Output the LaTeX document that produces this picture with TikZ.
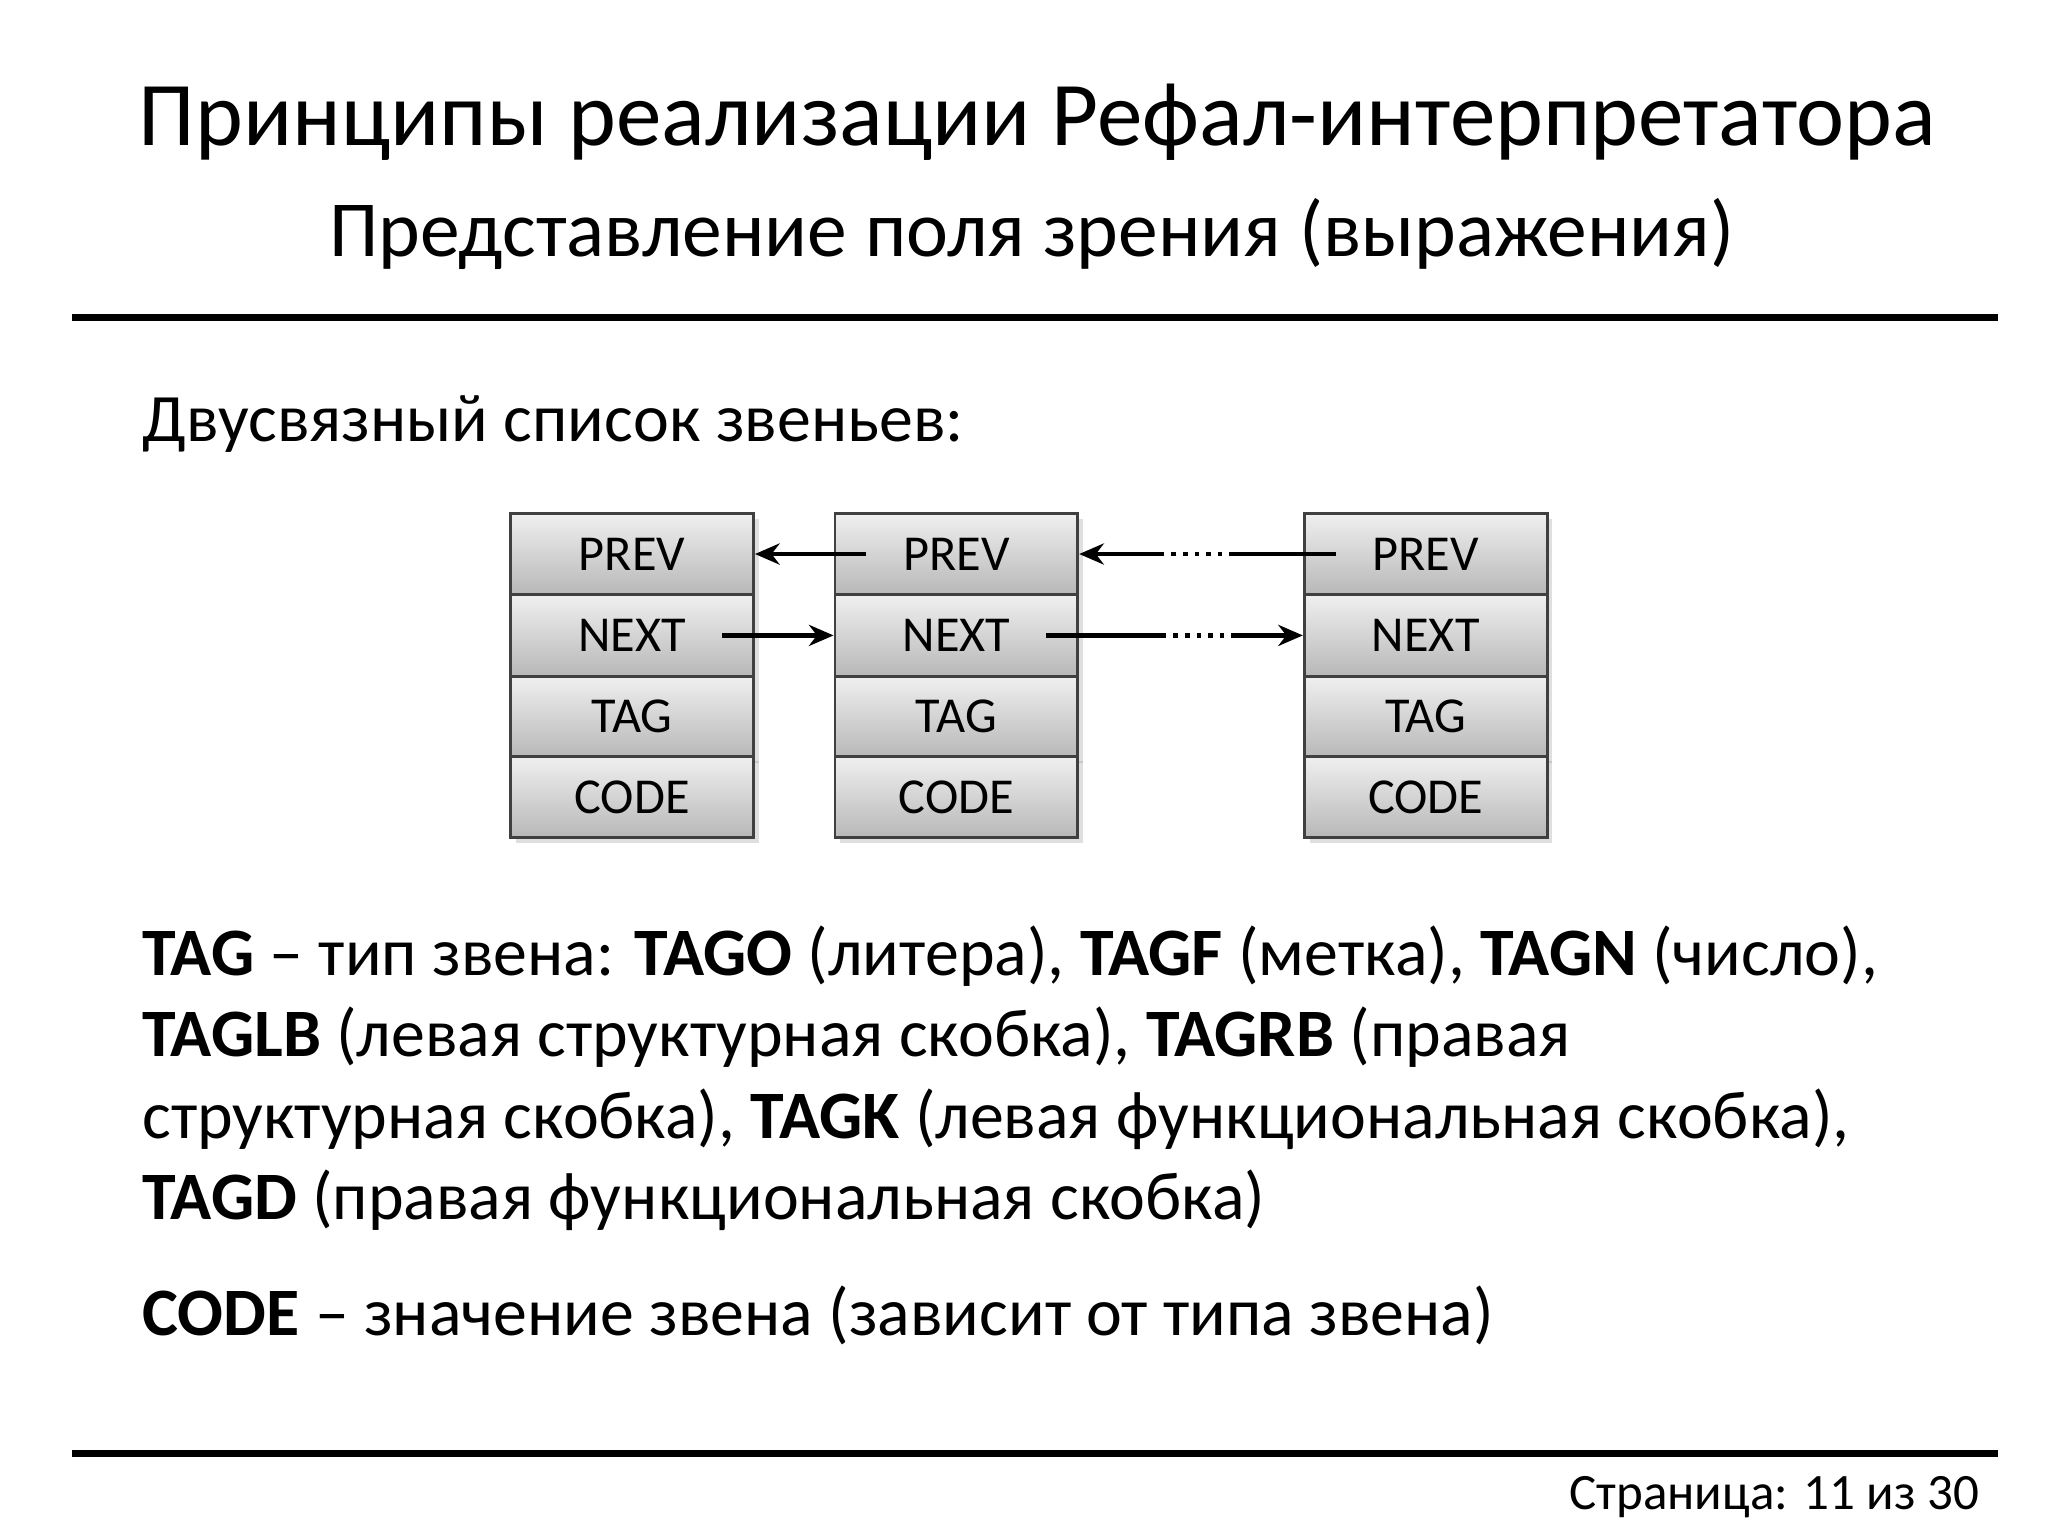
\documentclass[tikz,border=0pt]{standalone}
\usepackage{fontspec}
\setmainfont{Carlito}
\usetikzlibrary{shadows,arrows.meta}
\begin{document}
\begin{tikzpicture}[x=0.013128cm,y=-0.013128cm,
  cell/.style={draw=black!75,line width=0.8pt,top color=black!6,bottom color=black!28,minimum width=185*0.013128cm,minimum height=62*0.013128cm,inner sep=0pt,font=\fontsize{14.3}{16}\selectfont,drop shadow={opacity=0.25,shadow xshift=1.5pt,shadow yshift=-1.5pt}},
  arr/.style={line width=1.3pt,-{Stealth[length=7pt,width=6pt]}},
  body/.style={anchor=base west,inner sep=0pt,font=\fontsize{19.3}{22}\selectfont}]
\useasboundingbox (0,0) rectangle (1560,1170);
\node (t1) at (790,93) {\fontsize{25.9}{30}\selectfont Принципы реализации Рефал-интерпретатора};
\node (t2) at (786,178) {\fontsize{22.6}{26}\selectfont Представление поля зрения (выражения)};
\draw[line width=2pt] (55,242) -- (1522,242);
\draw[line width=2pt] (55,1107) -- (1522,1107);
\node[body] (l0) at (108,336) {Двусвязный список звеньев:};
\foreach \c/\x in {a/481.5,b/728.5,c/1086}{
  \node[cell] (\c1) at (\x,422) {PREV};
  \node[cell] (\c2) at (\x,484) {NEXT};
  \node[cell] (\c3) at (\x,546) {TAG};
  \node[cell] (\c4) at (\x,607) {CODE};
}
\coordinate (p1) at (660,422); \coordinate (n1) at (550,484);
\draw[arr] (p1) -- (a1.east);
\draw[arr] (n1) -- (b2.west);
\coordinate (p2s) at (1018,422); \coordinate (p2a) at (940,422); \coordinate (p2b) at (885,422);
\draw[line width=1.3pt] (p2s) -- (p2a);
\draw[line width=1.3pt,dotted] (p2a) -- (p2b);
\draw[arr] (p2b) -- (b1.east);
\coordinate (n2s) at (797,484); \coordinate (n2a) at (885,484); \coordinate (n2b) at (940,484);
\draw[line width=1.3pt] (n2s) -- (n2a);
\draw[line width=1.3pt,dotted] (n2a) -- (n2b);
\draw[arr] (n2b) -- (c2.west);
\node[body] (x1) at (108,743) {\textbf{TAG} – тип звена: \textbf{TAGO} (литера), \textbf{TAGF} (метка), \textbf{TAGN} (число),};
\node[body] (x2) at (108,805) {\textbf{TAGLB} (левая структурная скобка), \textbf{TAGRB} (правая};
\node[body] (x3) at (108,867) {структурная скобка), \textbf{TAGK} (левая функциональная скобка),};
\node[body] (x4) at (108,929) {\textbf{TAGD} (правая функциональная скобка)};
\node[body] (x5) at (108,1017) {\textbf{CODE} – значение звена (зависит от типа звена)};
\node[anchor=base east,inner sep=0pt,font=\fontsize{14.5}{16}\selectfont] (pg) at (1508,1150) {Страница: 11 из 30};
\end{tikzpicture}
\end{document}
